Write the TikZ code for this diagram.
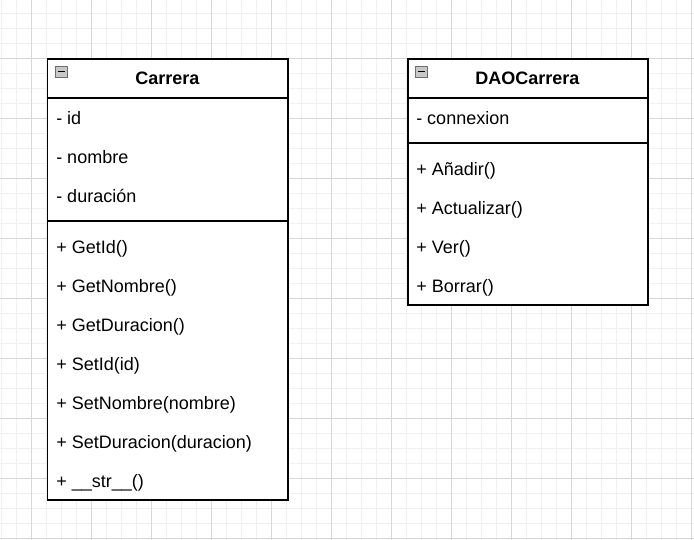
\documentclass[tikz,border=0pt]{standalone}
\usepackage{fontspec}
\setmainfont{Liberation Sans}
\begin{document}
\begin{tikzpicture}[x=0.75pt,y=-0.75pt,
  minorline/.style={draw={rgb,255:red,240;green,240;blue,240},line width=0.75pt},
  majorline/.style={draw={rgb,255:red,215;green,215;blue,215},line width=0.75pt},
  umlbox/.style={draw=black,line width=1.1pt,fill=white},
  sepline/.style={draw=black,line width=1.1pt},
  member/.style={anchor=base west,inner sep=0pt,font=\fontsize{13.5}{16}\selectfont},
  title/.style={anchor=base,inner sep=0pt,font=\fontsize{13.5}{16}\selectfont\bfseries},
  icon/.style={draw={rgb,255:red,110;green,110;blue,110},fill={rgb,255:red,200;green,200;blue,200},line width=0.6pt}
]
\useasboundingbox (0,0) rectangle (694,540);
\fill[white] (0,0) rectangle (694,540);
\foreach \x in {1.5,16.5,...,691.5} \draw[minorline] (\x,0) -- (\x,540);
\foreach \y in {13.5,28.5,...,538.5} \draw[minorline] (0,\y) -- (694,\y);
\foreach \x in {31.5,91.5,...,691.5} \draw[majorline] (\x,0) -- (\x,540);
\foreach \y in {58.5,118.5,...,538.5} \draw[majorline] (0,\y) -- (694,\y);

% Carrera
\draw[umlbox] (47.5,59) rectangle (288,500);
\draw[sepline] (47.5,98) -- (288,98);
\draw[sepline] (47.5,221) -- (288,221);
\draw[icon] (55.5,66) rectangle (67,77);
\draw[line width=0.9pt] (57.5,71.5) -- (65,71.5);
\node[title] (ctitle) at (167.5,84) {Carrera};
\node[member] (cid) at (56,124) {- id};
\node[member] (cnom) at (56,163) {- nombre};
\node[member] (cdur) at (56,202) {- duración};
\node[member] (m1) at (56,253.3) {+ GetId()};
\node[member] (m2) at (56,292.3) {+ GetNombre()};
\node[member] (m3) at (56,331.3) {+ GetDuracion()};
\node[member] (m4) at (56,370.3) {+ SetId(id)};
\node[member] (m5) at (56,409.3) {+ SetNombre(nombre)};
\node[member] (m6) at (56,448.3) {+ SetDuracion(duracion)};
\node[member] (m7) at (56,487.3) {+ \_\_str\_\_()};

% DAOCarrera
\draw[umlbox] (408,59) rectangle (648,305);
\draw[sepline] (408,98) -- (648,98);
\draw[sepline] (408,143) -- (648,143);
\draw[icon] (415.5,66) rectangle (427,77);
\draw[line width=0.9pt] (417.5,71.5) -- (425,71.5);
\node[title] (dtitle) at (527.5,84) {DAOCarrera};
\node[member] (dcon) at (416,124) {- connexion};
\node[member] (d1) at (416,175) {+ Añadir()};
\node[member] (d2) at (416,214) {+ Actualizar()};
\node[member] (d3) at (416,253) {+ Ver()};
\node[member] (d4) at (416,292) {+ Borrar()};
\end{tikzpicture}
\end{document}
